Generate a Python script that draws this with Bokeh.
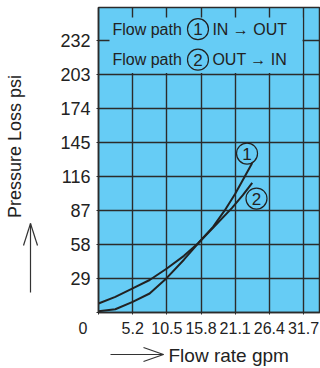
from bokeh.plotting import figure
from bokeh.models import Range1d, FixedTicker
from bokeh.layouts import row, column
from bokeh.core.properties import value
from bokeh.embed import file_html
from bokeh.resources import INLINE
import math

# ---------------- data ----------------
x_ticks = [0, 5.28, 10.56, 15.84, 21.12, 26.4, 31.68]
x_labels = ["0", "5.2", "10.5", "15.8", "21.1", "26.4", "31.7"]
y_ticks = [0, 29, 58, 87, 116, 145, 174, 203, 232]
y_labels = ["", "29", "58", "87", "116", "145", "174", "203", "232"]

flow1 = [0, 2.6, 5.28, 7.9, 10.56, 13.2, 15.4, 17.7, 19.5, 21.1, 22.6, 23.75]
loss1 = [7.7, 13.3, 20.5, 27.7, 37.5, 48.3, 59, 73, 87, 101, 116, 127.5]

flow2 = [0, 2.6, 5.28, 7.9, 10.56, 13.2, 15.4, 18.0, 20.6, 22.3, 23.75]
loss2 = [1.0, 2.8, 9.0, 16.2, 29.5, 45, 59, 74, 89, 100, 110.5]

legend_lines = ["IN \u2192 OUT", "OUT \u2192 IN"]
path_ids = ["1", "2"]

x_title = "Flow rate gpm"
y_title = "Pressure Loss psi"

# ---------------- style ----------------
BLUE = "#66CCF5"
INK = "#222222"
GRID = "#2b2b2b"
FONT = "Liberation Sans"
NBSP = "\u00a0"

X_MAX = 34.3
Y_MAX = 260.0

TOP_H = 342
LEFT_W = 44
FRAME_TOP = 7
FRAME_BOTTOM = 312

# ---------------- main chart ----------------
p = figure(width=320 - LEFT_W, height=TOP_H, x_range=Range1d(0, X_MAX), y_range=Range1d(0, Y_MAX),
           output_backend="svg", toolbar_location=None,
           min_border_left=98 - LEFT_W, min_border_right=0,
           min_border_top=FRAME_TOP, min_border_bottom=TOP_H - FRAME_BOTTOM)
p.background_fill_color = BLUE
p.border_fill_color = "white"
p.outline_line_color = GRID
p.outline_line_width = 1.5

x_over = {t: l for t, l in zip(x_ticks, x_labels)}
x_over[x_ticks[0]] = x_labels[0] + NBSP * 7   # the lone "0" sits left of the corner
p.xaxis.ticker = FixedTicker(ticks=x_ticks)
p.xaxis.major_label_overrides = x_over
p.yaxis.ticker = FixedTicker(ticks=y_ticks)
p.yaxis.major_label_overrides = {t: l for t, l in zip(y_ticks, y_labels)}
for ax in (p.xaxis, p.yaxis):
    ax.axis_line_color = GRID
    ax.axis_line_width = 1.5
    ax.major_tick_line_color = GRID
    ax.major_tick_in = 0
    ax.major_tick_out = 2
    ax.minor_tick_line_color = None
    ax.major_label_text_color = INK
p.xaxis.major_label_text_font = FONT
p.xaxis.major_label_text_font_size = "16px"
p.xaxis.major_label_standoff = 5
p.yaxis.major_label_text_font = FONT
p.yaxis.major_label_text_font_size = "18px"
p.yaxis.major_label_standoff = 6

p.grid.grid_line_color = GRID
p.grid.grid_line_width = 1.4
p.xgrid.ticker = FixedTicker(ticks=x_ticks)
p.ygrid.ticker = FixedTicker(ticks=y_ticks)

# legend panel covering the grid (blue, no border)
p.quad(left=[1.7], right=[x_ticks[-1] - 0.15], bottom=[y_ticks[-2] + 1.2], top=[251.5],
       fill_color=BLUE, line_color=None)

# curves
p.line(flow1, loss1, line_color=INK, line_width=2)
p.line(flow2, loss2, line_color=INK, line_width=2)

# legend text
leg_y = [241.5, 215.5]
p.text(x=[2.16, 2.16], y=leg_y, text=["Flow path", "Flow path"],
       text_font=value(FONT), text_font_size="16px", text_color=INK,
       text_baseline="middle", text_align="left")
p.scatter(x=[15.37, 15.37], y=leg_y, size=21, marker="circle",
          fill_color=None, line_color=INK, line_width=1.2)
p.text(x=[15.37, 15.37], y=leg_y, text=path_ids,
       text_font=value(FONT), text_font_size="17px", text_color=INK,
       text_baseline="middle", text_align="center")
p.text(x=[17.6, 17.6], y=leg_y, text=legend_lines,
       text_font=value(FONT), text_font_size="16px", text_color=INK,
       text_baseline="middle", text_align="left")

# curve labels
cl_x = [22.95, 24.41]
cl_y = [135.5, 97.1]
p.scatter(x=cl_x, y=cl_y, size=21, marker="circle",
          fill_color=None, line_color=INK, line_width=1.2)
p.text(x=cl_x, y=cl_y, text=path_ids,
       text_font=value(FONT), text_font_size="17px", text_color=INK,
       text_baseline="middle", text_align="center")


def blank(w, h, y0=0, y1=None):
    f = figure(width=w, height=h, x_range=Range1d(0, w),
               y_range=Range1d(y0, h if y1 is None else y1),
               output_backend="svg", toolbar_location=None, min_border=0,
               x_axis_location=None, y_axis_location=None, title=None)
    f.grid.visible = False
    f.outline_line_color = None
    f.background_fill_color = "white"
    f.border_fill_color = "white"
    return f


# ---------------- left strip: y title + up arrow ----------------
# its frame is aligned with the main frame, so map it to page pixels (y up from row bottom)
L = blank(LEFT_W, TOP_H, TOP_H - FRAME_BOTTOM, TOP_H - FRAME_TOP)
L.text(x=[14.5], y=[TOP_H - 146], text=[y_title], angle=math.pi / 2,
       text_font=value(FONT), text_font_size="18px", text_color=INK,
       text_align="center", text_baseline="middle")
L.segment(x0=[30, 30, 30], y0=[TOP_H - 292, TOP_H - 223, TOP_H - 223],
          x1=[30, 23, 37], y1=[TOP_H - 223, TOP_H - 245, TOP_H - 245],
          line_color="#333333", line_width=1.2)

# ---------------- bottom strip: right arrow + x title ----------------
BH = 368 - TOP_H
B = blank(320, BH)
B.text(x=[168], y=[368 - 355], text=[x_title],
       text_font=value(FONT), text_font_size="19px", text_color=INK,
       text_align="left", text_baseline="middle")
B.segment(x0=[110, 163, 163], y0=[368 - 354, 368 - 354, 368 - 354],
          x1=[163, 143, 143], y1=[368 - 354, 368 - 347, 368 - 361],
          line_color="#333333", line_width=1.2)

layout = column(row(L, p), B)
open("out.html", "w").write(file_html(layout, INLINE))
